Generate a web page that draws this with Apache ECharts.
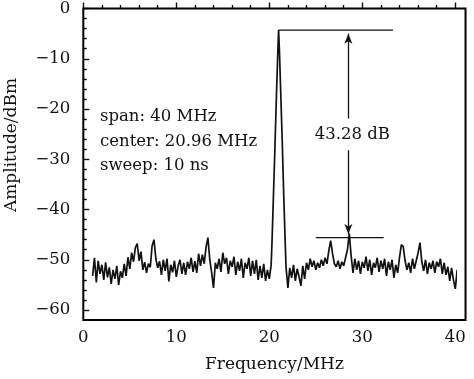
<!DOCTYPE html>
<html>
<head>
<meta charset="utf-8">
<script src="https://cdn.jsdelivr.net/npm/echarts@6/dist/echarts.min.js"></script>
<style>
html,body{margin:0;padding:0;background:#fff;}
#chart{width:474px;height:379px;}
</style>
</head>
<body>
<div id="chart"></div>
<script>
// ---- data (frequency MHz, amplitude dBm) ----
const noiseLow = [
[1.0,-53.2],[1.2,-49.6],[1.4,-54.5],[1.6,-50.2],[1.8,-52.8],[2.0,-51.0],[2.2,-54.0],[2.4,-50.5],[2.6,-53.5],[2.8,-51.5],
[3.0,-54.8],[3.2,-52.0],[3.4,-53.8],[3.6,-51.2],[3.8,-55.0],[4.0,-52.3],[4.2,-53.6],[4.4,-50.8],[4.6,-53.2],[4.8,-49.5],
[5.0,-51.8],[5.2,-48.6],[5.4,-50.4],[5.6,-47.6],[5.8,-46.8],[6.0,-50.2],[6.2,-48.4],[6.4,-52.0],[6.6,-50.5],[6.8,-52.6],
[7.0,-50.8],[7.2,-51.5],[7.4,-47.2],[7.6,-46.0],[7.8,-49.8],[8.0,-51.6],[8.2,-50.3],[8.4,-53.0],[8.6,-50.0],[8.8,-52.2],
[9.0,-49.8],[9.2,-54.3],[9.4,-51.0],[9.6,-52.5],[9.8,-50.2],[10.0,-53.4],[10.2,-51.2],[10.4,-50.0],[10.6,-52.8],[10.8,-50.6],
[11.0,-53.0],[11.2,-50.4],[11.4,-51.8],[11.6,-49.6],[11.8,-52.4],[12.0,-50.3],[12.2,-52.6],[12.4,-48.8],[12.6,-51.2],[12.8,-49.0],
[13.0,-50.8],[13.2,-47.5],[13.4,-45.6],[13.6,-50.0],[13.8,-52.5],[14.0,-55.6],[14.2,-50.6],[14.4,-51.8],[14.6,-49.8],[14.8,-52.4],
[15.0,-48.6],[15.2,-50.8],[15.4,-49.6],[15.6,-52.8],[15.8,-50.2],[16.0,-51.4],[16.2,-49.4],[16.4,-53.0],[16.6,-50.4],[16.8,-52.2],
[17.0,-49.8],[17.2,-53.6],[17.4,-50.6],[17.6,-51.8],[17.8,-49.6],[18.0,-53.2],[18.2,-50.2],[18.4,-52.8],[18.6,-50.0],[18.8,-54.0],
[19.0,-51.2],[19.2,-53.6],[19.4,-50.8],[19.6,-54.2],[19.8,-52.0],[20.0,-53.8],[20.2,-51.0]
];
const mainPeak = [
[20.3,-46.0],[20.45,-37.0],[20.6,-28.0],[20.75,-18.5],[20.9,-9.5],[21.0,-4.3],
[21.1,-9.0],[21.25,-18.0],[21.4,-27.0],[21.55,-37.0],[21.7,-46.0],[21.8,-51.5]
];
const noiseHigh = [
[22.0,-55.6],[22.2,-51.6],[22.4,-53.6],[22.6,-51.0],[22.8,-54.2],[23.0,-51.8],[23.2,-53.4],[23.4,-55.2],[23.6,-51.2],[23.8,-53.8],
[24.0,-50.6],[24.2,-52.0],[24.4,-49.8],[24.6,-51.4],[24.8,-50.2],[25.0,-52.0],[25.2,-50.6],[25.4,-51.6],[25.6,-50.0],[25.8,-51.2],
[26.0,-49.6],[26.2,-50.8],[26.4,-48.2],[26.6,-46.2],[26.8,-48.8],[27.0,-50.8],[27.2,-51.4],[27.4,-50.2],[27.6,-51.8],[27.8,-50.4],
[28.0,-51.2],[28.2,-49.6],[28.4,-48.0],[28.6,-44.8],[28.8,-49.2],[29.0,-52.6],[29.2,-49.8],[29.4,-52.0],[29.6,-50.2],[29.8,-52.8],
[30.0,-50.4],[30.2,-51.6],[30.4,-49.4],[30.6,-52.2],[30.8,-50.0],[31.0,-53.0],[31.2,-50.6],[31.4,-51.6],[31.6,-49.6],[31.8,-52.4],
[32.0,-50.2],[32.2,-51.8],[32.4,-49.8],[32.6,-53.2],[32.8,-50.4],[33.0,-52.0],[33.2,-50.0],[33.4,-53.6],[33.6,-51.0],[33.8,-52.6],
[34.0,-49.6],[34.2,-47.0],[34.4,-47.4],[34.6,-50.2],[34.8,-52.0],[35.0,-50.6],[35.2,-52.6],[35.4,-49.8],[35.6,-51.8],[35.8,-50.2],
[36.0,-48.6],[36.2,-46.6],[36.4,-50.4],[36.6,-52.2],[36.8,-50.0],[37.0,-52.8],[37.2,-50.6],[37.4,-51.8],[37.6,-50.2],[37.8,-52.6],
[38.0,-50.4],[38.2,-51.4],[38.4,-49.8],[38.6,-52.8],[38.8,-50.6],[39.0,-53.0],[39.2,-51.4],[39.4,-54.2],[39.6,-51.6],[39.8,-54.0],
[40.0,-55.8],[40.2,-52.0],[40.4,-54.6],[40.6,-51.6],[40.8,-53.8],[41.0,-52.2]
];
// annotation geometry in data units
const topMarker = [[20.97,-4.3],[33.3,-4.3]];
const bottomMarker = [[25.0,-45.6],[32.3,-45.6]];
const arrowX = 28.5;
const arrowUp = [-21.9,-5.0];
const arrowDown = [-28.2,-44.9];
const infoLines = ['span: 40 MHz','center: 20.96 MHz','sweep: 10 ns'];
const ratioLabel = '43.28 dB';
const xTicks = [0,10,20,30,40];
const yTicks = [0,-10,-20,-30,-40,-50,-60];
const xExtent = [0,41.1];
const yExtent = [-62,0];

const trace = noiseLow.concat(mainPeak, noiseHigh);
const FONT = 'DejaVu Serif';
const INK = '#111';

const chart = echarts.init(document.getElementById('chart'), null, {renderer:'canvas'});
const option = {
  animation:false,
  backgroundColor:'#fff',
  grid:{left:83.3, right:18.7, top:8.3, bottom:69, show:false},
  xAxis:{
    type:'value', min:xTicks[0], max:xTicks[xTicks.length-1], interval:10,
    offset:10,
    axisLine:{show:false},
    axisTick:{show:true, inside:true, length:6, lineStyle:{color:INK, width:1.4}},
    minorTick:{show:true, splitNumber:5, length:3.5, lineStyle:{color:INK, width:1.4}},
    splitLine:{show:false},
    axisLabel:{margin:9, fontFamily:FONT, fontSize:16.5, color:INK}
  },
  yAxis:{
    type:'value', min:yTicks[yTicks.length-1], max:yTicks[0], interval:10,
    axisLine:{show:false},
    axisTick:{show:true, inside:true, length:6, lineStyle:{color:INK, width:1.4}},
    minorTick:{show:true, splitNumber:5, length:3.5, lineStyle:{color:INK, width:1.4}},
    splitLine:{show:false},
    axisLabel:{margin:13, fontFamily:FONT, fontSize:16.5, color:INK,
      formatter:v => v===0 ? '0' : (v<0 ? '\u2212' + Math.abs(v) : String(v))}
  },
  series:[
    {type:'line', data:trace, showSymbol:false, clip:false,
     lineStyle:{color:INK, width:1.7}},
    {type:'line', data:topMarker, showSymbol:false, clip:false,
     lineStyle:{color:INK, width:1.4}},
    {type:'line', data:bottomMarker, showSymbol:false, clip:false,
     lineStyle:{color:INK, width:1.4},
     markLine:{silent:true, symbol:['none','arrow'], symbolSize:[6,10],
       label:{show:false}, lineStyle:{color:INK, width:1.3, type:'solid'},
       data:[
         [{coord:[arrowX,arrowUp[0]]},{coord:[arrowX,arrowUp[1]]}],
         [{coord:[arrowX,arrowDown[0]]},{coord:[arrowX,arrowDown[1]]}]
       ]}}
  ]
};
chart.setOption(option);

const p0 = chart.convertToPixel({gridIndex:0}, [xExtent[0], yExtent[1]]);
const p1 = chart.convertToPixel({gridIndex:0}, [xExtent[1], yExtent[0]]);
const pa = chart.convertToPixel({gridIndex:0}, [arrowX, (arrowUp[0]+arrowDown[0])/2]);
const textStyle = {fontFamily:FONT, fontSize:16.5, fill:INK};
chart.setOption({
  graphic:[
    {type:'rect', shape:{x:p0[0], y:p0[1], width:p1[0]-p0[0], height:p1[1]-p0[1]},
     style:{fill:null, stroke:'#000', lineWidth:2}, z:10},
    {type:'text', x:100, y:117, style:Object.assign({text:infoLines[0], verticalAlign:'middle'}, textStyle)},
    {type:'text', x:100, y:142, style:Object.assign({text:infoLines[1], verticalAlign:'middle'}, textStyle)},
    {type:'text', x:100, y:166, style:Object.assign({text:infoLines[2], verticalAlign:'middle'}, textStyle)},
    {type:'text', x:pa[0]+4, y:pa[1], style:Object.assign({text:ratioLabel, align:'center', verticalAlign:'middle'}, textStyle)},
    {type:'text', x:12, y:145, rotation:Math.PI/2,
     style:{text:'Amplitude/dBm', align:'center', verticalAlign:'middle', fontSize:17, fontFamily:FONT, fill:INK}},
    {type:'text', x:(p0[0]+p1[0])/2, y:365,
     style:{text:'Frequency/MHz', align:'center', verticalAlign:'middle', fontSize:17, fontFamily:FONT, fill:INK}}
  ]
});
</script>
</body>
</html>
